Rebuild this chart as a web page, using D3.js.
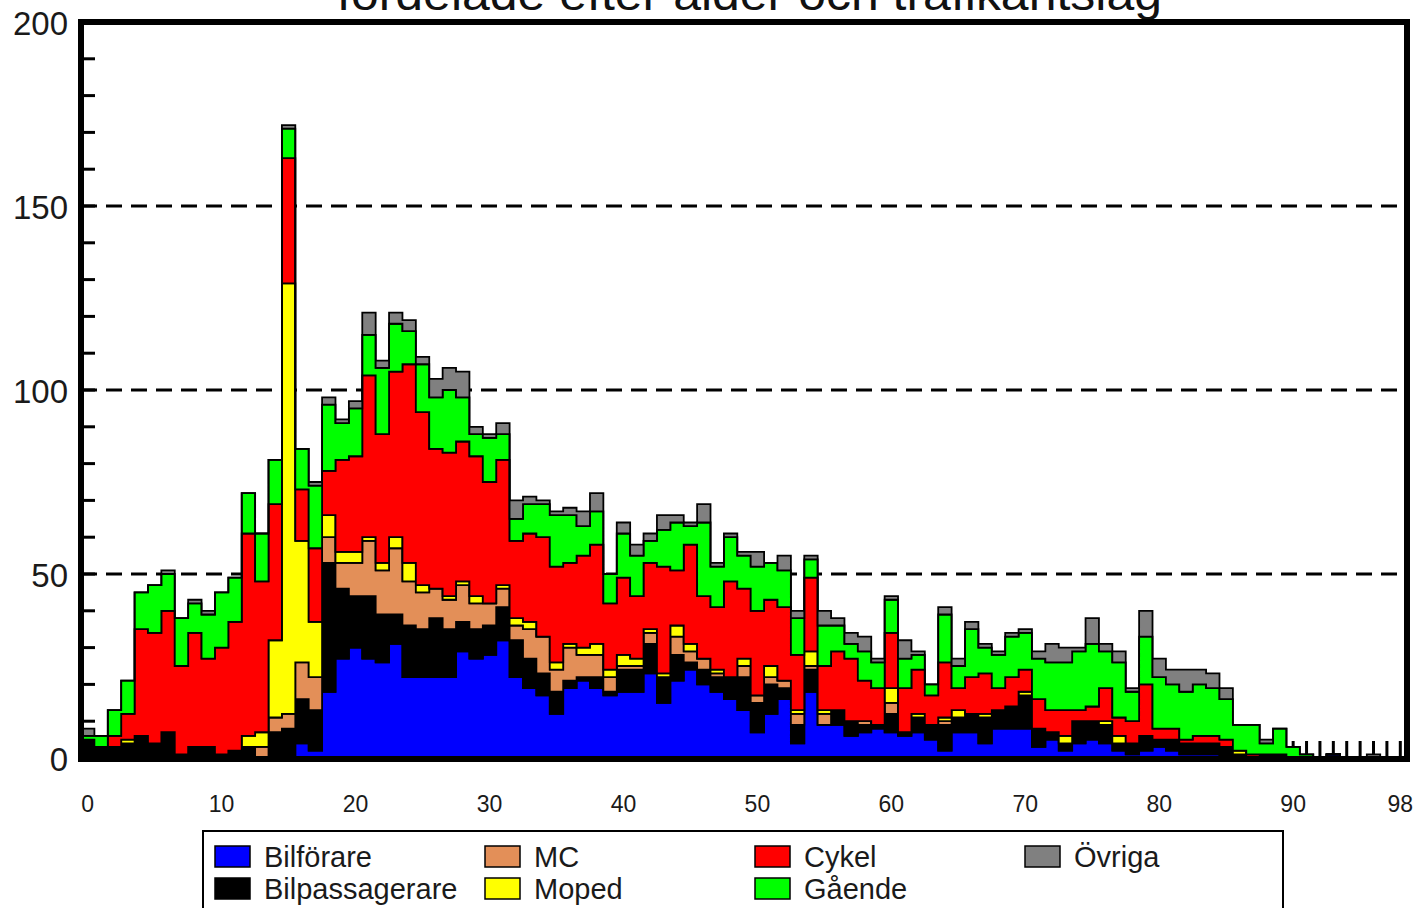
<!DOCTYPE html>
<html>
<head>
<meta charset="utf-8">
<script src="https://cdn.jsdelivr.net/npm/d3@7"></script>
<style>
  body { margin: 0; background: #fff; }
  text { font-family: "Liberation Sans", Arial, sans-serif; }
</style>
</head>
<body>
<script>
// ages 0..98, one value per age and road-user category
const ages = d3.range(0, 99);

const bilforare = [
  0,0,0,0,0,0,0,0,0,0, 0,0,0,0,0,0,4,2,18,27,
  30,27,26,31,22,22,22,22,29,27, 28,32,22,19,17,12,19,21,19,17,
  18,18,23,15,21,24,20,18,16,13, 7,12,16,4,18,9,9,6,7,8,
  7,6,7,5,2,7,7,4,8,8, 8,3,5,2,4,5,4,2,1,2,
  3,2,1,1,1,0,0,0,0,0, 0,0,0,1,0,0,0,0,0];
const bilpassagerare = [
  5,3,3,4,6,4,7,1,3,3, 1,2,3,0,7,8,12,11,35,19,
  14,17,13,8,14,13,16,13,8,8, 8,9,10,8,6,6,2,1,3,1,
  6,6,8,7,7,2,4,4,6,9, 8,8,3,5,6,0,4,4,2,1,
  5,1,4,4,7,4,5,7,5,6, 9,5,2,2,6,5,5,2,3,4,
  2,3,3,3,3,3,1,0,1,1, 0,0,0,0,0,0,0,0,0];
const mc = [
  0,0,0,0,0,0,0,0,0,0, 0,0,0,3,4,4,10,9,7,7,
  9,15,12,18,12,10,8,8,10,7, 6,5,4,8,10,6,9,6,6,4,
  1,1,3,0,5,3,3,1,0,3, 2,2,2,3,1,3,0,0,1,0,
  3,0,0,0,1,0,0,0,0,0, 0,0,0,0,0,0,0,0,0,0,
  0,0,0,0,0,0,0,0,0,0, 0,0,0,0,0,0,0,0,0];
const moped = [
  0,0,0,1,0,0,0,0,0,0, 0,0,3,4,21,117,33,15,6,3,
  3,1,2,3,5,2,0,1,1,2, 0,1,2,2,0,2,1,2,3,2,
  3,2,1,1,3,2,0,1,0,2, 0,3,0,1,4,1,0,0,0,0,
  4,0,1,0,1,2,0,1,0,0, 1,0,0,2,0,0,1,2,0,0,
  0,0,0,0,0,0,1,0,0,0, 0,0,0,0,0,0,0,0,0];
const cykel = [
  0,0,3,7,29,30,33,24,31,24, 29,35,55,41,37,34,14,20,12,25,
  26,44,35,45,54,47,38,39,38,38, 33,34,21,24,27,26,22,25,27,18,
  21,17,18,29,15,27,17,17,26,19, 23,18,20,15,20,12,16,17,11,10,
  15,12,12,8,15,6,10,11,6,8, 6,8,6,7,3,4,9,5,6,14,
  3,3,1,2,2,2,0,1,0,0, 0,0,0,0,0,0,0,0,0];
const gaende = [
  1,3,7,9,10,13,10,13,8,12, 15,12,11,13,12,8,11,17,18,10,
  13,11,18,13,9,13,14,17,12,6, 12,7,6,8,9,14,13,8,9,8,
  12,11,6,10,13,5,20,11,12,9, 12,10,10,10,5,11,7,4,8,7,
  9,8,4,3,13,6,13,7,9,11, 10,11,13,13,16,17,10,15,8,13,
  14,12,13,14,13,11,7,8,3,7, 3,1,0,0,0,0,0,0,0];
const ovriga = [
  2,0,0,0,0,0,1,0,1,1, 0,0,0,0,0,1,0,1,2,1,
  2,6,2,3,3,2,5,6,7,2, 1,3,5,2,1,1,2,4,5,0,
  3,3,2,4,2,1,5,1,1,1, 4,0,4,2,1,4,2,3,4,1,
  1,5,1,0,2,2,2,1,1,1, 1,2,5,4,1,7,2,3,1,7,
  5,4,6,4,4,3,0,0,1,0, 0,0,0,0,0,0,1,0,0];

const categories = ["Bilförare", "Bilpassagerare", "MC", "Moped", "Cykel", "Gående", "Övriga"];
const seriesValues = [bilforare, bilpassagerare, mc, moped, cykel, gaende, ovriga];
const colors = ["#0000ff", "#000000", "#e38f58", "#ffff00", "#ff0000", "#00ff00", "#808080"];

const yTicks = [0, 50, 100, 150, 200];
const xTickLabels = [0, 10, 20, 30, 40, 50, 60, 70, 80, 90, 98];
const titleText = "fördelade efter ålder och trafikantslag";

function createChart() {
    const svgWidth = 1420, svgHeight = 908;

    const x = d3.scaleLinear().domain([-0.5, 98.5]).range([81, 1407]);
    const y = d3.scaleLinear().domain([0, 200]).range([758, 22]);

    const svg = d3.create("svg")
        .attr("width", svgWidth)
        .attr("height", svgHeight)
        .attr("viewBox", `0 0 ${svgWidth} ${svgHeight}`);

    // title, mostly cut off at the top of the picture (as in the source)
    svg.append("text")
        .attr("x", 337)
        .attr("y", 10)
        .attr("font-size", 46)
        .attr("textLength", 825)
        .attr("lengthAdjust", "spacingAndGlyphs")
        .attr("fill", "#111")
        .text(titleText);

    // dashed grid lines
    svg.append("g")
        .selectAll("line")
        .data([50, 100, 150])
        .join("line")
        .attr("x1", x.range()[0])
        .attr("x2", x.range()[1])
        .attr("y1", d => y(d))
        .attr("y2", d => y(d))
        .attr("stroke", "#000")
        .attr("stroke-width", 3)
        .attr("stroke-dasharray", "16,9");

    // minor ticks on the left axis (every 10)
    svg.append("g")
        .selectAll("line")
        .data(d3.range(10, 200, 10))
        .join("line")
        .attr("x1", x.range()[0])
        .attr("x2", x.range()[0] + 14)
        .attr("y1", d => y(d))
        .attr("y2", d => y(d))
        .attr("stroke", "#000")
        .attr("stroke-width", 3);

    // one tick per age along the bottom
    svg.append("g")
        .selectAll("line")
        .data(ages)
        .join("line")
        .attr("x1", d => x(d))
        .attr("x2", d => x(d))
        .attr("y1", y(0))
        .attr("y2", y(0) - 17)
        .attr("stroke", "#000")
        .attr("stroke-width", 3);

    // stacked histogram as step areas
    const table = ages.map((a, i) => {
        const row = { age: a };
        categories.forEach((c, j) => row[c] = seriesValues[j][i]);
        return row;
    });
    const stacked = d3.stack().keys(categories)(table);

    const area = d3.area()
        .x(d => x(d.x))
        .y0(d => y(d.y0))
        .y1(d => y(d.y1));

    svg.append("g")
        .selectAll("path")
        .data(stacked)
        .join("path")
        .attr("fill", (d, i) => colors[i])
        .attr("stroke", "#000")
        .attr("stroke-width", 1.8)
        .attr("stroke-linejoin", "miter")
        .attr("d", layer => {
            const pts = [];
            layer.forEach((s, i) => {
                pts.push({ x: ages[i] - 0.5, y0: s[0], y1: s[1] });
                pts.push({ x: ages[i] + 0.5, y0: s[0], y1: s[1] });
            });
            return area(pts);
        });

    // frame
    svg.append("rect")
        .attr("x", x.range()[0])
        .attr("y", y(200))
        .attr("width", x.range()[1] - x.range()[0])
        .attr("height", y(0) - y(200) + 1)
        .attr("fill", "none")
        .attr("stroke", "#000")
        .attr("stroke-width", 6);

    // y labels
    svg.append("g")
        .selectAll("text")
        .data(yTicks)
        .join("text")
        .attr("x", 68)
        .attr("y", d => y(d) + 1)
        .attr("text-anchor", "end")
        .attr("dominant-baseline", "central")
        .attr("font-size", 33)
        .attr("fill", "#1a1a1a")
        .text(d => d);

    // x labels
    svg.append("g")
        .selectAll("text")
        .data(xTickLabels)
        .join("text")
        .attr("x", d => x(d))
        .attr("y", 804)
        .attr("text-anchor", "middle")
        .attr("dominant-baseline", "central")
        .attr("font-size", 23)
        .attr("fill", "#1a1a1a")
        .text(d => d);

    // legend
    const legend = svg.append("g");
    legend.append("rect")
        .attr("x", 203)
        .attr("y", 831)
        .attr("width", 1080)
        .attr("height", 100)
        .attr("fill", "#fff")
        .attr("stroke", "#000")
        .attr("stroke-width", 2);

    const legendPos = [[0, 0], [0, 1], [1, 0], [1, 1], [2, 0], [2, 1], [3, 0]];
    const item = legend.selectAll("g.item")
        .data(categories)
        .join("g")
        .attr("class", "item")
        .attr("transform", (d, i) => `translate(${215 + legendPos[i][0] * 270},${846 + legendPos[i][1] * 32})`);

    item.append("rect")
        .attr("width", 35)
        .attr("height", 21)
        .attr("fill", (d, i) => colors[i])
        .attr("stroke", "#000")
        .attr("stroke-width", 1.5);

    item.append("text")
        .attr("x", 49)
        .attr("y", 11)
        .attr("dominant-baseline", "central")
        .attr("font-size", 29)
        .attr("fill", "#1a1a1a")
        .text(d => d);

    document.body.append(svg.node());
}

createChart();
</script>
</body>
</html>
